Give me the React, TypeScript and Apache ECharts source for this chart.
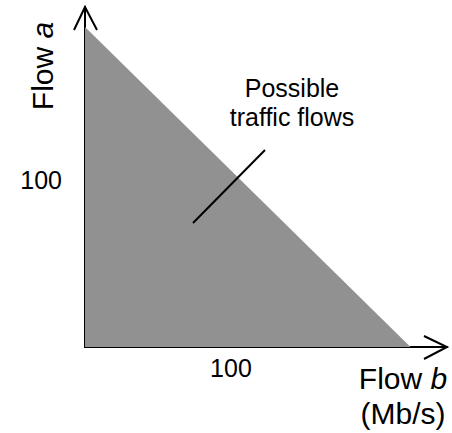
import React, { useEffect, useRef } from "react";
import * as echarts from "echarts";

// Triangle vertices (axis units, tick "100" as reference)
const regionX = [0, 223];
const regionY = [192, 0];
const xTickLabels = [100];
const yTickLabels = [100];
const xMax = 248;
const yMax = 204;

const FONT = "Liberation Sans, Arial, sans-serif";

export default function App() {
  const ref = useRef<HTMLDivElement>(null);
  useEffect(() => {
    if (!ref.current) return;
    const chart = echarts.init(ref.current, undefined, { renderer: "svg" });
    const data = regionX.map((x, i) => [x, regionY[i]]);
    chart.setOption({
      animation: false,
      grid: { left: 85, right: 5, top: 7, bottom: 86 },
      xAxis: {
        type: "value",
        min: 0,
        max: xMax,
        interval: 100,
        splitLine: { show: false },
        axisTick: { show: false },
        axisLine: { show: true, lineStyle: { color: "#000", width: 2 } },
        axisLabel: {
          margin: 8,
          fontSize: 25,
          color: "#000",
          fontFamily: FONT,
          showMaxLabel: false,
          formatter: (v: number) => (xTickLabels.includes(v) ? String(v) : ""),
        },
      },
      yAxis: {
        type: "value",
        min: 0,
        max: yMax,
        interval: 100,
        splitLine: { show: false },
        axisTick: { show: false },
        axisLine: { show: true, lineStyle: { color: "#000", width: 2 } },
        axisLabel: {
          margin: 23,
          fontSize: 25,
          color: "#000",
          fontFamily: FONT,
          showMaxLabel: false,
          formatter: (v: number) => (yTickLabels.includes(v) ? String(v) : ""),
        },
      },
      series: [
        {
          type: "line",
          data,
          symbol: "none",
          lineStyle: { width: 0 },
          areaStyle: { color: "#919191", opacity: 1 },
          z: 1,
        },
      ],
      graphic: [
        // arrow heads
        {
          type: "polyline",
          shape: { points: [[74, 30], [85, 7], [97, 30]] },
          style: { stroke: "#000", lineWidth: 2, fill: "none" },
          z: 100,
        },
        {
          type: "polyline",
          shape: { points: [[424, 336], [447, 347], [424, 359]] },
          style: { stroke: "#000", lineWidth: 2, fill: "none" },
          z: 100,
        },
        // pointer line
        {
          type: "line",
          shape: { x1: 193, y1: 223, x2: 265, y2: 150 },
          style: { stroke: "#000", lineWidth: 2 },
          z: 100,
        },
        // annotation
        {
          type: "text",
          x: 292,
          y: 102,
          style: {
            text: "Possible\ntraffic flows",
            fontSize: 25,
            lineHeight: 29,
            fontFamily: FONT,
            fill: "#000",
            align: "center",
            verticalAlign: "middle",
          },
          z: 100,
        },
        // y axis name
        {
          type: "text",
          x: 42,
          y: 66,
          rotation: Math.PI / 2,
          style: {
            text: "{n|Flow }{i|a}",
            align: "center",
            verticalAlign: "middle",
            rich: {
              n: { fontSize: 30, fontFamily: FONT, fill: "#000" },
              i: { fontSize: 30, fontFamily: FONT, fontStyle: "italic", fill: "#000" },
            },
          },
          z: 100,
        },
        // x axis name
        {
          type: "text",
          x: 403,
          y: 396,
          style: {
            text: "{n|Flow }{i|b}\n{n|(Mb/s)}",
            align: "center",
            verticalAlign: "middle",
            rich: {
              n: { fontSize: 30, lineHeight: 35, fontFamily: FONT, fill: "#000" },
              i: { fontSize: 30, lineHeight: 35, fontFamily: FONT, fontStyle: "italic", fill: "#000" },
            },
          },
          z: 100,
        },
      ],
    });
    return () => chart.dispose();
  }, []);
  return (
    <div
      ref={ref}
      style={{ position: "fixed", left: 0, top: 0, width: 452, height: 433, background: "#fff" }}
    />
  );
}
